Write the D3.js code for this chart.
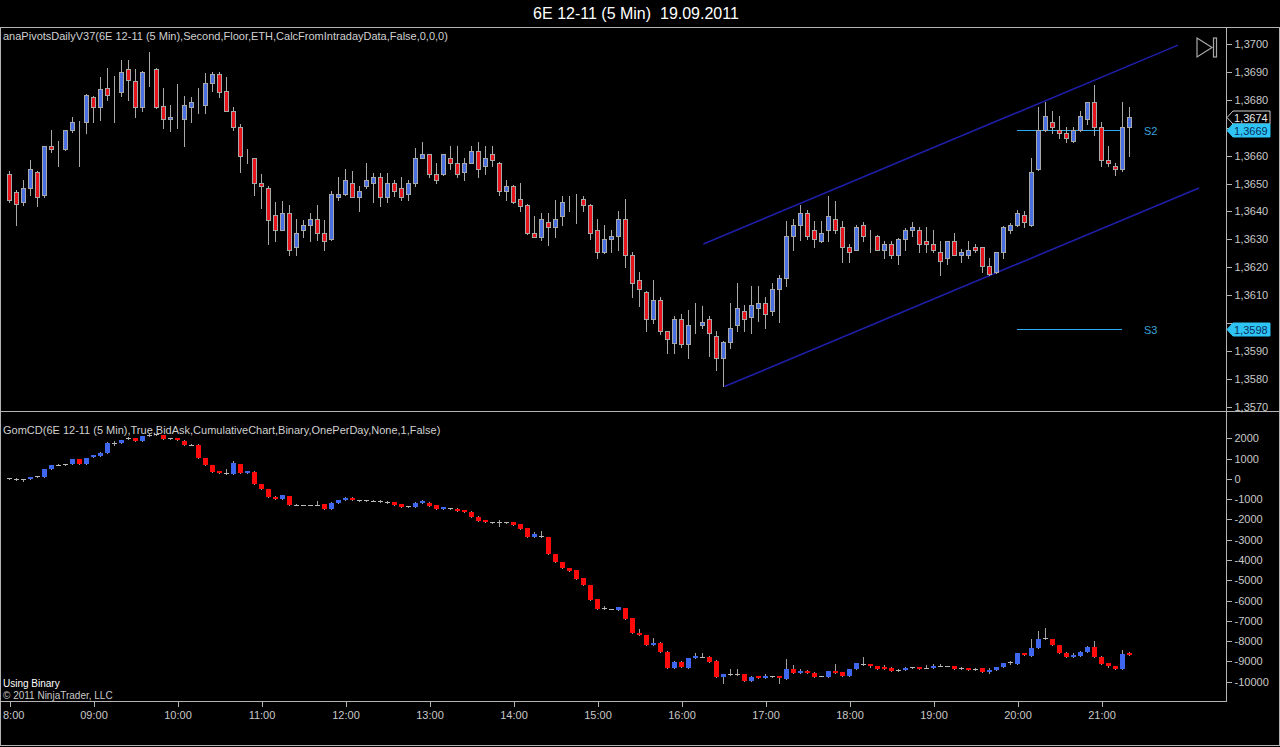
<!DOCTYPE html>
<html><head><meta charset="utf-8">
<script src="https://cdn.jsdelivr.net/npm/d3@7"></script>
<style>html,body{margin:0;padding:0;background:#000;overflow:hidden}svg{display:block}</style>
</head><body><svg id="c" width="1280" height="747"></svg>
<script>
// ---------------- data ----------------
const sessionDate = "2011-09-19";
const firstBar = "08:00", lastBar = "21:20", barMinutes = 5;
const hourTicks  = ["08:00","09:00","10:00","11:00","12:00","13:00","14:00","15:00","16:00","17:00","18:00","19:00","20:00","21:00"];
const hourLabels = ["8:00","09:00","10:00","11:00","12:00","13:00","14:00","15:00","16:00","17:00","18:00","19:00","20:00","21:00"];
const priceTicks = [1.3700,1.3690,1.3680,1.3670,1.3660,1.3650,1.3640,1.3630,1.3620,1.3610,1.3600,1.3590,1.3580,1.3570];
const deltaTicks = [2000,1000,0,-1000,-2000,-3000,-4000,-5000,-6000,-7000,-8000,-9000,-10000];

const priceOpen = [1.36535,1.3647,1.36434,1.36484,1.3654,1.3646,1.36633,1.36624,1.36624,1.3669,1.36721,1.36721,1.3681,1.36773,1.36841,1.36829,1.36829,1.36912,1.36868,1.36773,1.369,1.36912,1.36779,1.36731,1.3674,1.3673,1.36774,1.3678,1.3678,1.36861,1.36891,1.3683,1.36761,1.36701,1.36591,1.36591,1.36502,1.36484,1.36388,1.36335,1.36394,1.36272,1.36332,1.36351,1.36372,1.36322,1.363,1.36452,1.36463,1.36502,1.36452,1.3649,1.36502,1.36523,1.36452,1.36502,1.36484,1.36462,1.36502,1.36591,1.36604,1.36535,1.36535,1.36591,1.36574,1.36542,1.36574,1.36615,1.36562,1.36604,1.36574,1.36472,1.36492,1.36444,1.36423,1.36322,1.3631,1.36362,1.36343,1.36382,1.36446,1.36434,1.36444,1.36423,1.36334,1.36254,1.363,1.36312,1.36373,1.36244,1.36153,1.36111,1.36014,1.36081,1.3597,1.3593,1.36014,1.35923,1.36004,1.35992,1.36014,1.35952,1.35874,1.35932,1.35993,1.36042,1.36022,1.36054,1.36072,1.36044,1.36122,1.36161,1.36313,1.36351,1.36394,1.36332,1.36293,1.36332,1.36373,1.36344,1.36272,1.36263,1.36351,1.36313,1.36313,1.36263,1.36284,1.36244,1.36301,1.36332,1.36332,1.36293,1.36284,1.36254,1.36233,1.36293,1.36244,1.36244,1.36272,1.36272,1.36204,1.36182,1.36254,1.36332,1.36351,1.36388,1.36351,1.36552,1.3669,1.3672,1.3669,1.3668,1.36652,1.3669,1.3673,1.36791,1.36701,1.36584,1.36562,1.36552,1.36701];
const priceHigh = [1.36544,1.36475,1.36514,1.36586,1.36545,1.36635,1.3669,1.36653,1.36693,1.3674,1.36725,1.3682,1.36812,1.36883,1.36914,1.36884,1.36943,1.36943,1.36912,1.36902,1.3697,1.36915,1.36841,1.3678,1.36857,1.36814,1.3681,1.36841,1.36895,1.369,1.369,1.36883,1.36775,1.36715,1.36624,1.36593,1.36534,1.3649,1.36433,1.36436,1.36424,1.36373,1.3637,1.36394,1.36424,1.3637,1.36472,1.36525,1.36552,1.36544,1.36492,1.36574,1.36538,1.36538,1.36538,1.36514,1.36525,1.36514,1.36627,1.3665,1.36606,1.36574,1.36606,1.36635,1.36635,1.36591,1.36635,1.3665,1.36635,1.36635,1.36576,1.36514,1.36494,1.36502,1.36425,1.36382,1.36394,1.36394,1.36442,1.36454,1.36454,1.36463,1.36454,1.36425,1.36373,1.36352,1.36334,1.36402,1.36444,1.36254,1.36183,1.36113,1.36155,1.36093,1.35972,1.36024,1.36033,1.36045,1.36071,1.36062,1.36024,1.3597,1.35935,1.36071,1.36145,1.36066,1.36131,1.36131,1.36093,1.36145,1.36173,1.36364,1.36373,1.36424,1.36406,1.36364,1.36364,1.36454,1.36436,1.36364,1.36284,1.36352,1.36362,1.36334,1.36315,1.36293,1.36293,1.36303,1.3634,1.36362,1.36344,1.36344,1.36334,1.36293,1.36295,1.36322,1.36267,1.36293,1.36284,1.36274,1.36233,1.36256,1.36346,1.3636,1.36405,1.36402,1.36591,1.36775,1.36793,1.36761,1.36741,1.36701,1.36701,1.36761,1.36793,1.36853,1.3672,1.36633,1.36574,1.36791,1.36775];
const priceLow = [1.36433,1.3635,1.36422,1.3646,1.3642,1.3645,1.36612,1.36562,1.3662,1.36685,1.36562,1.3668,1.3672,1.36728,1.368,1.3672,1.36814,1.368,1.3674,1.3676,1.3685,1.3677,1.36698,1.36688,1.367,1.36633,1.3672,1.36752,1.36752,1.3683,1.3681,1.3676,1.3669,1.3654,1.36574,1.3646,1.36413,1.36282,1.36294,1.36333,1.36245,1.36245,1.3631,1.36294,1.36298,1.3626,1.36298,1.36442,1.3646,1.3645,1.364,1.36484,1.36433,1.3642,1.36433,1.36454,1.36442,1.36442,1.3649,1.3659,1.36523,1.36502,1.3653,1.36552,1.36523,1.36512,1.36572,1.36523,1.36535,1.36562,1.3646,1.36442,1.36431,1.364,1.3632,1.3631,1.36298,1.36281,1.3631,1.36352,1.364,1.3636,1.364,1.363,1.36233,1.36252,1.36254,1.3626,1.36202,1.36093,1.36062,1.3597,1.36,1.35962,1.35892,1.35892,1.35914,1.35874,1.35964,1.35982,1.3588,1.3583,1.35773,1.3591,1.3597,1.3597,1.35964,1.36006,1.35982,1.3603,1.36005,1.36131,1.36262,1.36298,1.363,1.36271,1.36291,1.36293,1.36322,1.3622,1.3622,1.36261,1.36293,1.36254,1.3626,1.36233,1.36233,1.36213,1.36263,1.36313,1.36254,1.36254,1.36254,1.36173,1.36213,1.36242,1.3622,1.36233,1.36254,1.36184,1.36172,1.3618,1.36233,1.36322,1.36349,1.36344,1.36349,1.3655,1.36688,1.3668,1.36662,1.3665,1.3665,1.36688,1.36713,1.36674,1.36562,1.36562,1.3653,1.36544,1.366];
const priceClose = [1.3644,1.36425,1.36484,1.36552,1.3645,1.36633,1.36624,1.36624,1.3669,1.36721,1.36721,1.36818,1.36773,1.3684,1.36818,1.36829,1.369,1.3687,1.36773,1.369,1.369,1.36773,1.3673,1.3674,1.3674,1.3678,1.36792,1.3678,1.36861,1.36891,1.36829,1.36761,1.36701,1.366,1.36591,1.36502,1.3649,1.3637,1.36335,1.36394,1.3626,1.36322,1.3635,1.36372,1.36322,1.36295,1.36463,1.36463,1.36514,1.36452,1.36474,1.36514,1.36523,1.36452,1.36502,1.36472,1.36452,1.36502,1.36591,1.36604,1.36535,1.36512,1.36604,1.36574,1.36535,1.36574,1.36615,1.36552,1.36591,1.36583,1.36472,1.36492,1.36433,1.3642,1.36322,1.3631,1.36373,1.36343,1.36373,1.36434,1.36446,1.36434,1.36423,1.36322,1.36254,1.36301,1.36312,1.36373,1.36244,1.36143,1.36122,1.36014,1.36084,1.3597,1.35943,1.36014,1.35923,1.35993,1.36004,1.36004,1.35964,1.35874,1.35932,1.35982,1.36053,1.36014,1.36065,1.36072,1.36033,1.36122,1.36161,1.36313,1.36351,1.36394,1.36313,1.36301,1.36322,1.36382,1.36332,1.36272,1.36254,1.36344,1.36313,1.36313,1.36263,1.36284,1.36244,1.36301,1.36332,1.36344,1.36284,1.36284,1.36263,1.36224,1.36293,1.36244,1.36254,1.36263,1.36263,1.36206,1.36174,1.36254,1.36344,1.36351,1.36394,1.36361,1.36541,1.3669,1.36741,1.36701,1.3668,1.36662,1.3669,1.36741,1.36791,1.36701,1.36584,1.36573,1.36552,1.36701,1.3674];

const deltaOpen = [0,15,-70,-15,84,115,478,690,690,720,971,740,1070,1134,1297,1790,1790,1957,2021,1890,2120,2218,2154,1988,2010,1890,1690,1690,1020,690,378,280,230,740,312,360,-261,-508,-873,-1000,-838,-1282,-1282,-1282,-1282,-1248,-1464,-1168,-1035,-920,-1035,-1100,-1068,-1068,-1117,-1150,-1233,-1331,-1397,-1200,-1168,-1297,-1464,-1430,-1464,-1520,-1612,-1859,-2021,-2120,-2150,-2120,-2150,-2218,-2430,-2845,-2810,-2874,-3698,-4092,-4388,-4486,-4896,-5226,-5916,-6360,-6425,-6458,-6376,-6868,-7577,-7690,-8184,-8069,-8513,-9302,-9006,-9302,-8842,-8790,-8760,-8956,-9778,-9613,-9680,-9613,-9942,-9700,-9800,-9700,-9740,-9844,-9367,-9548,-9450,-9548,-9700,-9745,-9450,-9515,-9712,-9351,-9120,-9150,-9219,-9285,-9302,-9450,-9400,-9270,-9270,-9300,-9300,-9235,-9235,-9219,-9300,-9330,-9400,-9317,-9498,-9400,-9285,-9100,-9104,-8594,-8710,-8316,-7857,-7900,-8184,-8563,-8760,-8710,-8513,-8267,-8760,-9088,-9219,-9351,-8594];
const deltaHigh = [40,20,-20,90,135,480,680,730,745,975,975,1040,1200,1330,1795,1870,1930,2050,2030,2125,2190,2230,2160,2030,2025,1900,1730,1700,1030,700,400,478,887,750,385,370,-255,-500,-865,-780,-830,-1230,-1275,-1275,-1100,-1240,-1160,-1030,-915,-915,-1030,-1030,-1060,-1060,-1110,-1145,-1225,-1325,-1165,-1050,-1160,-1290,-1390,-1425,-1460,-1515,-1605,-1850,-2015,-2115,-2020,-2115,-2145,-2210,-2425,-2600,-2564,-2870,-3690,-4085,-4380,-4480,-4890,-5220,-5910,-6260,-6420,-6320,-6370,-6860,-7420,-7685,-7850,-8060,-8505,-9000,-9000,-8835,-8600,-8600,-8755,-8950,-9610,-9380,-9380,-9605,-9740,-9695,-9600,-9695,-9735,-8890,-9200,-9380,-9445,-9540,-9695,-9460,-9120,-9510,-9360,-9085,-8800,-9145,-9215,-9170,-9295,-9395,-9295,-9260,-9265,-9200,-9135,-9135,-9230,-9215,-9295,-9325,-9345,-9310,-9340,-9265,-9085,-8970,-8590,-8590,-7900,-7494,-7360,-7895,-8180,-8555,-8600,-8505,-8260,-7990,-8755,-9080,-9215,-8430,-8530];
const deltaLow = [-20,-70,-90,-20,80,110,470,680,680,715,735,735,1065,1130,1290,1660,1785,1950,1885,1885,2115,2150,1985,1980,1920,1655,1680,1015,685,340,275,260,220,305,305,-265,-510,-880,-1005,-1005,-1290,-1300,-1290,-1290,-1290,-1470,-1470,-1175,-1040,-1040,-1105,-1105,-1075,-1140,-1190,-1270,-1370,-1400,-1400,-1205,-1320,-1470,-1470,-1500,-1570,-1615,-1865,-2060,-2125,-2190,-2320,-2155,-2255,-2455,-2850,-2850,-2870,-3700,-4095,-4390,-4540,-4935,-5230,-5970,-6415,-6430,-6430,-6465,-6910,-7580,-7695,-8190,-8190,-8520,-9310,-9310,-9260,-9310,-8850,-8795,-9010,-9785,-10072,-9685,-9685,-9950,-9950,-9805,-9805,-9790,-10070,-9850,-9550,-9555,-9585,-9750,-9705,-9750,-9555,-9715,-9715,-9355,-9190,-9255,-9355,-9355,-9455,-9455,-9405,-9305,-9355,-9310,-9305,-9240,-9240,-9355,-9355,-9405,-9405,-9500,-9560,-9405,-9290,-9105,-9110,-8700,-8715,-8320,-7905,-8190,-8570,-8765,-8765,-8715,-8520,-8795,-9125,-9255,-9355,-9355,-8680];
const deltaClose = [30,-64,-30,84,130,478,675,705,740,971,740,1035,1168,1297,1790,1790,1923,2021,1890,2120,2185,2154,1988,2010,1923,1660,1690,1020,690,345,280,280,774,312,378,-261,-508,-873,-1000,-804,-1282,-1290,-1282,-1282,-1282,-1464,-1168,-1035,-920,-1035,-1100,-1035,-1068,-1134,-1183,-1267,-1365,-1397,-1168,-1100,-1316,-1464,-1400,-1494,-1563,-1610,-1859,-2056,-2120,-2185,-2150,-2150,-2250,-2450,-2845,-2726,-2860,-3698,-4092,-4388,-4536,-4930,-5226,-5965,-6409,-6425,-6425,-6327,-6902,-7577,-7690,-8184,-8069,-8513,-9302,-9006,-9252,-8842,-8726,-8760,-9006,-9778,-9613,-9680,-9613,-9942,-9745,-9800,-9700,-9780,-9840,-9367,-9548,-9450,-9580,-9745,-9700,-9466,-9548,-9712,-9367,-9088,-9187,-9250,-9351,-9351,-9450,-9400,-9300,-9300,-9350,-9300,-9235,-9235,-9235,-9351,-9351,-9400,-9350,-9498,-9400,-9270,-9088,-9020,-8594,-8693,-8316,-7890,-7900,-8184,-8563,-8760,-8680,-8513,-8267,-8790,-9120,-9250,-9351,-8627,-8660];

const pivotNames  = ["S2", "S3"];
const pivotValues = [1.3669, 1.3598];
const pivotFrom = "20:00", pivotTo = "21:15";
const channelUpper = [["16:16", 1.36283], ["21:55", 1.36996]];
const channelLower = [["16:31", 1.35772], ["22:10", 1.36484]];

const titleText = "6E 12-11 (5 Min)  19.09.2011";
const priceLabel = "anaPivotsDailyV37(6E 12-11 (5 Min),Second,Floor,ETH,CalcFromIntradayData,False,0,0,0)";
const deltaLabel = "GomCD(6E 12-11 (5 Min),True,BidAsk,CumulativeChart,Binary,OnePerDay,None,1,False)";

// ---------------- drawing ----------------
(function () {
const W = 1280, H = 747;
const pTop = 27, sep = 412, bot = 701, axisX = 1226;
const FONT = "'Liberation Sans', Arial, sans-serif";
const GRAY = "#b4b4b4", TXT = "#c8c8c8";
const UP = "#4a6fe0", DN = "#e8141c";
const DUP = "#3f66ee", DDN = "#ff0a0a";

const svg = d3.select("#c");
svg.append("rect").attr("width", W).attr("height", H).attr("fill", "#000");

const parse = s => d3.timeParse("%Y-%m-%d %H:%M")(sessionDate + " " + s);
const x = d3.scaleTime().domain([parse(firstBar), parse(lastBar)]).range([9, 1129]);
const times = priceClose.map((_, i) => d3.timeMinute.offset(parse(firstBar), i * barMinutes));

const yP = d3.scaleLinear().domain([1.3570, 1.3700]).range([406.7, 44]);
const yD = d3.scaleLinear().domain([-10000, 2000]).range([681.7, 438.3]);

const defs = svg.append("defs");
defs.append("clipPath").attr("id", "cp").append("rect").attr("x", 1).attr("y", pTop + 1).attr("width", axisX - 1).attr("height", sep - pTop - 2);
defs.append("clipPath").attr("id", "cd").append("rect").attr("x", 1).attr("y", sep).attr("width", axisX - 1).attr("height", bot - sep);

// title
svg.append("text").attr("x", 636).attr("y", 19).attr("text-anchor", "middle")
  .style("white-space", "pre").attr("xml:space", "preserve")
  .attr("fill", "#fff").attr("font-family", FONT).attr("font-size", 16).text(titleText);

// ---------------- price panel ----------------
const gP = svg.append("g").attr("clip-path", "url(#cp)");

[channelUpper, channelLower].forEach(seg => {
  gP.append("line")
    .attr("x1", x(parse(seg[0][0]))).attr("y1", yP(seg[0][1]))
    .attr("x2", x(parse(seg[1][0]))).attr("y2", yP(seg[1][1]))
    .attr("stroke", "#1e1ea8").attr("stroke-width", 1.6);
});

pivotValues.forEach((v, i) => {
  const yy = Math.round(yP(v)) + 0.5;
  gP.append("line").attr("x1", x(parse(pivotFrom))).attr("x2", x(parse(pivotTo)))
    .attr("y1", yy).attr("y2", yy).attr("stroke", "#2aaaf0").attr("stroke-width", 1)
    .attr("shape-rendering", "crispEdges");
  gP.append("text").attr("x", 1144).attr("y", yy + 4).attr("fill", "#3aa2d8")
    .attr("font-family", FONT).attr("font-size", 11).text(pivotNames[i]);
});

const cg = gP.append("g").attr("shape-rendering", "crispEdges");
times.forEach((t, i) => {
  const cx = Math.round(x(t));
  const o = priceOpen[i], c = priceClose[i];
  cg.append("line").attr("x1", cx + 0.5).attr("x2", cx + 0.5)
    .attr("y1", Math.round(yP(priceHigh[i]))).attr("y2", Math.round(yP(priceLow[i])) + 1)
    .attr("stroke", "#a8a8a8");
  const y1 = Math.round(yP(Math.max(o, c))), y2 = Math.round(yP(Math.min(o, c)));
  cg.append("rect").attr("x", cx - 1.5).attr("y", y1 + 0.5).attr("width", 4).attr("height", Math.max(y2 - y1, 0))
    .attr("fill", c > o ? UP : (c < o ? DN : "#a8a8a8")).attr("stroke", "#a8a8a8").attr("stroke-width", 1);
});

// ---------------- delta panel ----------------
const gD = svg.append("g").attr("clip-path", "url(#cd)").attr("shape-rendering", "crispEdges");
times.forEach((t, i) => {
  const cx = Math.round(x(t));
  const o = deltaOpen[i], c = deltaClose[i];
  gD.append("line").attr("x1", cx + 0.5).attr("x2", cx + 0.5)
    .attr("y1", Math.round(yD(deltaHigh[i]))).attr("y2", Math.round(yD(deltaLow[i])) + 1)
    .attr("stroke", "#a0a0a0");
  const y1 = Math.round(yD(Math.max(o, c))), y2 = Math.round(yD(Math.min(o, c)));
  const hgt = Math.max(y2 - y1, 1);
  gD.append("rect").attr("x", cx - 2).attr("y", y1).attr("width", 5).attr("height", hgt)
    .attr("fill", hgt <= 1 ? "#b8b8b8" : (c > o ? DUP : DDN));
});

// ---------------- frame ----------------
const fr = svg.append("g").attr("stroke", GRAY).attr("stroke-width", 1).attr("shape-rendering", "crispEdges");
fr.append("line").attr("x1", 0).attr("x2", W).attr("y1", pTop + 0.5).attr("y2", pTop + 0.5);
fr.append("line").attr("x1", 0).attr("x2", W).attr("y1", sep - 0.5).attr("y2", sep - 0.5);
fr.append("line").attr("x1", 0).attr("x2", axisX).attr("y1", bot + 0.5).attr("y2", bot + 0.5);
fr.append("line").attr("x1", axisX + 0.5).attr("x2", axisX + 0.5).attr("y1", pTop).attr("y2", bot + 1);
fr.append("line").attr("x1", 0.5).attr("x2", 0.5).attr("y1", pTop).attr("y2", 746);
fr.append("line").attr("x1", W - 0.5).attr("x2", W - 0.5).attr("y1", pTop).attr("y2", 746);
fr.append("line").attr("x1", 0).attr("x2", W).attr("y1", 745.5).attr("y2", 745.5);

// ---------------- axes ----------------
function styleAxis(g) {
  g.select(".domain").remove();
  g.selectAll(".tick line").attr("stroke", GRAY).attr("shape-rendering", "crispEdges");
  g.selectAll(".tick text").attr("fill", TXT).attr("font-family", FONT).attr("font-size", 11);
}
const fmtP = d => d.toFixed(4).replace(".", ",");
const markerValues = [priceClose[priceClose.length - 1]].concat(pivotValues);
const yAxP = svg.append("g").attr("transform", `translate(${axisX + 0.5},0)`)
  .call(d3.axisRight(yP).tickValues(priceTicks).tickFormat(fmtP).tickSize(5).tickPadding(3)).call(styleAxis);
// tick labels that sit under a price marker are hidden by it
yAxP.selectAll(".tick text").filter(d => markerValues.some(m => Math.abs(yP(m) - yP(d)) < 9)).remove();
svg.append("g").attr("transform", `translate(${axisX + 0.5},0)`)
  .call(d3.axisRight(yD).tickValues(deltaTicks).tickFormat(d => String(d)).tickSize(5).tickPadding(3)).call(styleAxis);
const xa = svg.append("g").attr("transform", `translate(0.5,${bot + 0.5})`)
  .call(d3.axisBottom(x).tickValues(hourTicks.map(parse)).tickFormat((d, i) => hourLabels[i]).tickSize(5).tickPadding(5))
  .call(styleAxis);
xa.selectAll(".tick text").filter((d, i) => i === 0).attr("text-anchor", "start").attr("x", -7);

function marker(v, fill, stroke, tc) {
  const yy = Math.round(yP(v)) + 0.5;
  const g = svg.append("g");
  g.append("path").attr("d", `M${axisX + 1},${yy} L${axisX + 7},${yy - 6.5} L1270,${yy - 6.5} L1270,${yy + 6.5} L${axisX + 7},${yy + 6.5} Z`)
    .attr("fill", fill).attr("stroke", stroke).attr("stroke-width", 1);
  g.append("text").attr("x", 1234).attr("y", yy + 4).attr("fill", tc)
    .attr("font-family", FONT).attr("font-size", 11).text(fmtP(v));
}
marker(priceClose[priceClose.length - 1], "#000", "#d0d0d0", "#e8e8e8");
pivotValues.forEach(v => marker(v, "#2ec4f4", "#2ec4f4", "#0a2f5c"));

svg.append("path").attr("d", "M1197,38 L1212,47.5 L1197,57 Z").attr("fill", "none").attr("stroke", "#a8a8a8").attr("stroke-width", 1.2);
svg.append("rect").attr("x", 1213.5).attr("y", 38).attr("width", 3).attr("height", 19).attr("fill", "none").attr("stroke", "#a8a8a8").attr("stroke-width", 1.2);

svg.append("text").attr("x", 3).attr("y", 40).attr("fill", "#d0d0d0").attr("font-family", FONT).attr("font-size", 11).text(priceLabel);
svg.append("text").attr("x", 3).attr("y", 434).attr("fill", "#d0d0d0").attr("font-family", FONT).attr("font-size", 11).text(deltaLabel);
svg.append("text").attr("x", 3).attr("y", 687).attr("fill", "#ffffff").attr("font-family", FONT).attr("font-size", 10).text("Using Binary");
svg.append("text").attr("x", 3).attr("y", 698.5).attr("fill", "#c8c8c8").attr("font-family", FONT).attr("font-size", 10).text("© 2011 NinjaTrader, LLC");
})();
</script></body></html>
